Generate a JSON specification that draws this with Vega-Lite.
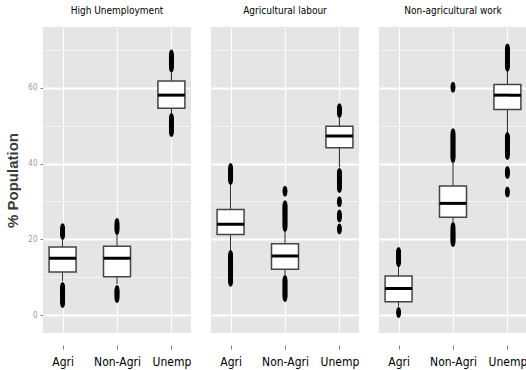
{
  "$schema": "https://vega.github.io/schema/vega-lite/v6.json",
  "background": "white",
  "padding": {"left": 5, "top": 6, "right": 0, "bottom": 8},
  "data": {"values": [
    {"panel": "High Unemployment", "cat": "Agri", "lo": 9, "q1": 11.4, "med": 15.0, "q3": 18.0, "hi": 19.8},
    {"panel": "High Unemployment", "cat": "Non-Agri", "lo": 8.2, "q1": 10.1, "med": 15.0, "q3": 18.2, "hi": 21.3},
    {"panel": "High Unemployment", "cat": "Unemp", "lo": 53.3, "q1": 54.6, "med": 58.1, "q3": 61.8, "hi": 64.2},
    {"panel": "Agricultural labour", "cat": "Agri", "lo": 17.0, "q1": 21.3, "med": 24.0, "q3": 27.9, "hi": 34.5},
    {"panel": "Agricultural labour", "cat": "Non-Agri", "lo": 10.4, "q1": 12.1, "med": 15.6, "q3": 18.8, "hi": 22.0},
    {"panel": "Agricultural labour", "cat": "Unemp", "lo": 39.0, "q1": 44.2, "med": 47.3, "q3": 49.9, "hi": 52.2},
    {"panel": "Non-agricultural work", "cat": "Agri", "lo": 2.2, "q1": 3.5, "med": 7.0, "q3": 10.3, "hi": 13.3},
    {"panel": "Non-agricultural work", "cat": "Non-Agri", "lo": 24.5, "q1": 25.8, "med": 29.5, "q3": 34.1, "hi": 40.4},
    {"panel": "Non-agricultural work", "cat": "Unemp", "lo": 48.0, "q1": 54.3, "med": 58.1, "q3": 60.9, "hi": 64.5},
    {"panel": "High Unemployment", "cat": "Agri", "v": 21.3}, {"panel": "High Unemployment", "cat": "Agri", "v": 22.0}, {"panel": "High Unemployment", "cat": "Agri", "v": 22.8},
    {"panel": "High Unemployment", "cat": "Agri", "v": 3.3}, {"panel": "High Unemployment", "cat": "Agri", "v": 4.0}, {"panel": "High Unemployment", "cat": "Agri", "v": 4.7}, {"panel": "High Unemployment", "cat": "Agri", "v": 5.4}, {"panel": "High Unemployment", "cat": "Agri", "v": 6.1}, {"panel": "High Unemployment", "cat": "Agri", "v": 6.8}, {"panel": "High Unemployment", "cat": "Agri", "v": 7.25},
    {"panel": "High Unemployment", "cat": "Non-Agri", "v": 22.6}, {"panel": "High Unemployment", "cat": "Non-Agri", "v": 23.4}, {"panel": "High Unemployment", "cat": "Non-Agri", "v": 24.2},
    {"panel": "High Unemployment", "cat": "Non-Agri", "v": 4.6}, {"panel": "High Unemployment", "cat": "Non-Agri", "v": 5.3}, {"panel": "High Unemployment", "cat": "Non-Agri", "v": 6.0}, {"panel": "High Unemployment", "cat": "Non-Agri", "v": 6.5},
    {"panel": "High Unemployment", "cat": "Unemp", "v": 65.5}, {"panel": "High Unemployment", "cat": "Unemp", "v": 66.2}, {"panel": "High Unemployment", "cat": "Unemp", "v": 66.9}, {"panel": "High Unemployment", "cat": "Unemp", "v": 67.6}, {"panel": "High Unemployment", "cat": "Unemp", "v": 68.2}, {"panel": "High Unemployment", "cat": "Unemp", "v": 68.7},
    {"panel": "High Unemployment", "cat": "Unemp", "v": 48.5}, {"panel": "High Unemployment", "cat": "Unemp", "v": 49.2}, {"panel": "High Unemployment", "cat": "Unemp", "v": 49.9}, {"panel": "High Unemployment", "cat": "Unemp", "v": 50.6}, {"panel": "High Unemployment", "cat": "Unemp", "v": 51.3}, {"panel": "High Unemployment", "cat": "Unemp", "v": 51.9},
    {"panel": "Agricultural labour", "cat": "Agri", "v": 35.8}, {"panel": "Agricultural labour", "cat": "Agri", "v": 36.5}, {"panel": "Agricultural labour", "cat": "Agri", "v": 37.2}, {"panel": "Agricultural labour", "cat": "Agri", "v": 38.0}, {"panel": "Agricultural labour", "cat": "Agri", "v": 38.7},
    {"panel": "Agricultural labour", "cat": "Agri", "v": 8.9}, {"panel": "Agricultural labour", "cat": "Agri", "v": 9.6}, {"panel": "Agricultural labour", "cat": "Agri", "v": 10.3}, {"panel": "Agricultural labour", "cat": "Agri", "v": 11.0}, {"panel": "Agricultural labour", "cat": "Agri", "v": 11.7}, {"panel": "Agricultural labour", "cat": "Agri", "v": 12.4}, {"panel": "Agricultural labour", "cat": "Agri", "v": 13.1}, {"panel": "Agricultural labour", "cat": "Agri", "v": 13.8}, {"panel": "Agricultural labour", "cat": "Agri", "v": 14.5}, {"panel": "Agricultural labour", "cat": "Agri", "v": 15.2}, {"panel": "Agricultural labour", "cat": "Agri", "v": 15.7},
    {"panel": "Agricultural labour", "cat": "Non-Agri", "v": 23.4}, {"panel": "Agricultural labour", "cat": "Non-Agri", "v": 24.1}, {"panel": "Agricultural labour", "cat": "Non-Agri", "v": 24.8}, {"panel": "Agricultural labour", "cat": "Non-Agri", "v": 25.5}, {"panel": "Agricultural labour", "cat": "Non-Agri", "v": 26.2}, {"panel": "Agricultural labour", "cat": "Non-Agri", "v": 26.9}, {"panel": "Agricultural labour", "cat": "Non-Agri", "v": 27.6}, {"panel": "Agricultural labour", "cat": "Non-Agri", "v": 28.3}, {"panel": "Agricultural labour", "cat": "Non-Agri", "v": 28.9}, {"panel": "Agricultural labour", "cat": "Non-Agri", "v": 32.7},
    {"panel": "Agricultural labour", "cat": "Non-Agri", "v": 4.9}, {"panel": "Agricultural labour", "cat": "Non-Agri", "v": 5.6}, {"panel": "Agricultural labour", "cat": "Non-Agri", "v": 6.3}, {"panel": "Agricultural labour", "cat": "Non-Agri", "v": 7.0}, {"panel": "Agricultural labour", "cat": "Non-Agri", "v": 7.7}, {"panel": "Agricultural labour", "cat": "Non-Agri", "v": 8.4}, {"panel": "Agricultural labour", "cat": "Non-Agri", "v": 9.1},
    {"panel": "Agricultural labour", "cat": "Unemp", "v": 53.5}, {"panel": "Agricultural labour", "cat": "Unemp", "v": 54.0}, {"panel": "Agricultural labour", "cat": "Unemp", "v": 54.5},
    {"panel": "Agricultural labour", "cat": "Unemp", "v": 33.7}, {"panel": "Agricultural labour", "cat": "Unemp", "v": 34.4}, {"panel": "Agricultural labour", "cat": "Unemp", "v": 35.1}, {"panel": "Agricultural labour", "cat": "Unemp", "v": 35.8}, {"panel": "Agricultural labour", "cat": "Unemp", "v": 36.5}, {"panel": "Agricultural labour", "cat": "Unemp", "v": 37.2}, {"panel": "Agricultural labour", "cat": "Unemp", "v": 37.4}, {"panel": "Agricultural labour", "cat": "Unemp", "v": 29.9}, {"panel": "Agricultural labour", "cat": "Unemp", "v": 25.9}, {"panel": "Agricultural labour", "cat": "Unemp", "v": 26.4}, {"panel": "Agricultural labour", "cat": "Unemp", "v": 22.7},
    {"panel": "Non-agricultural work", "cat": "Agri", "v": 14.1}, {"panel": "Non-agricultural work", "cat": "Agri", "v": 14.8}, {"panel": "Non-agricultural work", "cat": "Agri", "v": 15.5}, {"panel": "Non-agricultural work", "cat": "Agri", "v": 16.2}, {"panel": "Non-agricultural work", "cat": "Agri", "v": 16.5},
    {"panel": "Non-agricultural work", "cat": "Agri", "v": 0.65},
    {"panel": "Non-agricultural work", "cat": "Non-Agri", "v": 41.6}, {"panel": "Non-agricultural work", "cat": "Non-Agri", "v": 42.3}, {"panel": "Non-agricultural work", "cat": "Non-Agri", "v": 43.0}, {"panel": "Non-agricultural work", "cat": "Non-Agri", "v": 43.7}, {"panel": "Non-agricultural work", "cat": "Non-Agri", "v": 44.4}, {"panel": "Non-agricultural work", "cat": "Non-Agri", "v": 45.1}, {"panel": "Non-agricultural work", "cat": "Non-Agri", "v": 45.8}, {"panel": "Non-agricultural work", "cat": "Non-Agri", "v": 46.5}, {"panel": "Non-agricultural work", "cat": "Non-Agri", "v": 47.2}, {"panel": "Non-agricultural work", "cat": "Non-Agri", "v": 47.9}, {"panel": "Non-agricultural work", "cat": "Non-Agri", "v": 60.2},
    {"panel": "Non-agricultural work", "cat": "Non-Agri", "v": 19.4}, {"panel": "Non-agricultural work", "cat": "Non-Agri", "v": 20.1}, {"panel": "Non-agricultural work", "cat": "Non-Agri", "v": 20.8}, {"panel": "Non-agricultural work", "cat": "Non-Agri", "v": 21.5}, {"panel": "Non-agricultural work", "cat": "Non-Agri", "v": 22.2}, {"panel": "Non-agricultural work", "cat": "Non-Agri", "v": 23.1},
    {"panel": "Non-agricultural work", "cat": "Unemp", "v": 65.7}, {"panel": "Non-agricultural work", "cat": "Unemp", "v": 66.4}, {"panel": "Non-agricultural work", "cat": "Unemp", "v": 67.1}, {"panel": "Non-agricultural work", "cat": "Unemp", "v": 67.8}, {"panel": "Non-agricultural work", "cat": "Unemp", "v": 68.5}, {"panel": "Non-agricultural work", "cat": "Unemp", "v": 69.2}, {"panel": "Non-agricultural work", "cat": "Unemp", "v": 69.9}, {"panel": "Non-agricultural work", "cat": "Unemp", "v": 70.3},
    {"panel": "Non-agricultural work", "cat": "Unemp", "v": 42.4}, {"panel": "Non-agricultural work", "cat": "Unemp", "v": 43.1}, {"panel": "Non-agricultural work", "cat": "Unemp", "v": 43.8}, {"panel": "Non-agricultural work", "cat": "Unemp", "v": 44.5}, {"panel": "Non-agricultural work", "cat": "Unemp", "v": 45.2}, {"panel": "Non-agricultural work", "cat": "Unemp", "v": 45.9}, {"panel": "Non-agricultural work", "cat": "Unemp", "v": 46.6}, {"panel": "Non-agricultural work", "cat": "Unemp", "v": 46.9}, {"panel": "Non-agricultural work", "cat": "Unemp", "v": 37.4}, {"panel": "Non-agricultural work", "cat": "Unemp", "v": 37.9}, {"panel": "Non-agricultural work", "cat": "Unemp", "v": 32.5}
  ]},
  "facet": {
    "column": {
      "field": "panel", "type": "nominal",
      "sort": ["High Unemployment", "Agricultural labour", "Non-agricultural work"],
      "header": {"title": null, "labelFont": "'Liberation Sans Narrow', 'DejaVu Sans Condensed', 'Liberation Sans', sans-serif", "labelFontSize": 10, "labelColor": "black", "labelPadding": 11}
    }
  },
  "spacing": 20,
  "spec": {
    "width": 148,
    "height": 306,
    "encoding": {
      "x": {"field": "cat", "type": "nominal", "scale": {"type": "point", "padding": 0.36},
        "axis": {"title": null, "domain": false, "ticks": true, "tickColor": "#7f7f7f", "tickSize": 4, "offset": 6, "labelFont": "'Liberation Sans Narrow', 'DejaVu Sans Condensed', 'Liberation Sans', sans-serif", "labelFontSize": 12, "labelColor": "black", "labelPadding": 7, "labelAngle": 0, "grid": true, "gridColor": "white", "gridWidth": 1}}
    },
    "layer": [
      {
        "transform": [{"filter": "isValid(datum.q1)"}],
        "mark": {"type": "rule", "color": "#222", "strokeWidth": 1},
        "encoding": {
          "y": {"field": "lo", "type": "quantitative", "scale": {"domain": [-4.75, 76.1], "nice": false, "zero": false},
            "axis": {"title": "% Population", "titleFont": "Liberation Sans", "titleFontSize": 15, "titleFontWeight": "bold", "titleColor": "#3a3a3a", "titlePadding": 7,
              "values": [0, 10, 20, 30, 40, 50, 60, 70], "labelExpr": "datum.value % 20 === 0 ? datum.label : ''",
              "labelFont": "'Liberation Sans Narrow', 'DejaVu Sans Condensed', 'Liberation Sans', sans-serif", "labelFontSize": 8, "labelColor": "#9a9a9a", "labelPadding": 3,
              "domain": false, "tickSize": 3, "tickColor": "#7f7f7f",
              "tickOpacity": {"condition": {"test": "datum.value % 20 === 0", "value": 1}, "value": 0},
              "grid": true, "gridColor": "white",
              "gridWidth": {"condition": {"test": "datum.value % 20 === 0", "value": 2}, "value": 0.6}}},
          "y2": {"field": "hi"}
        }
      },
      {
        "transform": [{"filter": "isValid(datum.q1)"}],
        "mark": {"type": "bar", "size": 27, "fill": "white", "stroke": "#444", "strokeWidth": 1.5},
        "encoding": {
          "y": {"field": "q1", "type": "quantitative"},
          "y2": {"field": "q3"}
        }
      },
      {
        "transform": [{"filter": "isValid(datum.q1)"}],
        "mark": {"type": "tick", "size": 27, "thickness": 3, "color": "black", "opacity": 1},
        "encoding": {
          "y": {"field": "med", "type": "quantitative"}
        }
      },
      {
        "transform": [{"filter": "isValid(datum.v)"}],
        "mark": {"type": "point", "shape": "M0,-1A0.45,1 0 1,1 0,1A0.45,1 0 1,1 0,-1Z", "size": 121, "filled": true, "color": "black", "opacity": 1},
        "encoding": {
          "y": {"field": "v", "type": "quantitative"}
        }
      }
    ]
  },
  "config": {
    "view": {"fill": "#E5E5E5", "stroke": null}
  }
}
